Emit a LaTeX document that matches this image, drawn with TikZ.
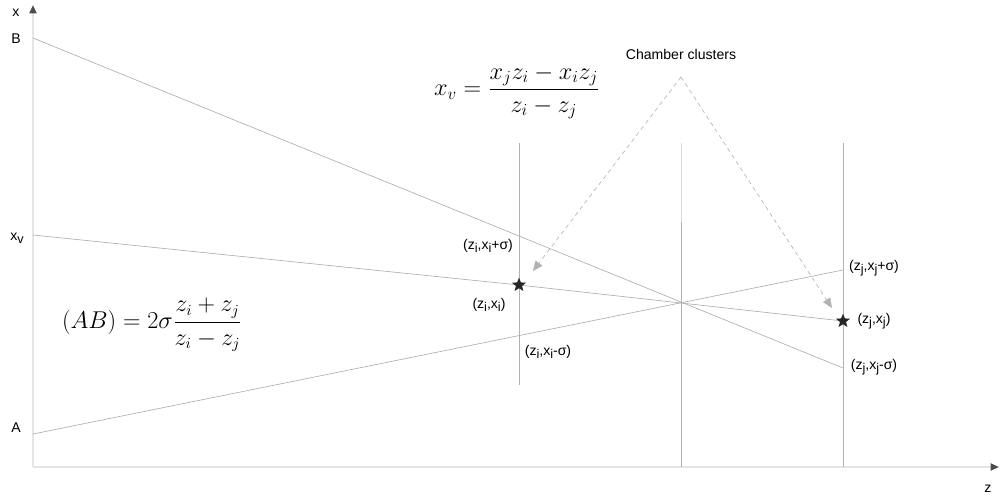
\documentclass[tikz,border=0pt]{standalone}
\usepackage{amsmath}
\usepackage{fontspec}
\setsansfont{Liberation Sans}
\usetikzlibrary{arrows.meta,shapes.geometric}
\newcommand{\lo}[1]{\raisebox{-0.45ex}{\fontsize{9}{10}\selectfont #1}}

\begin{document}
\begin{tikzpicture}[x=0.025cm, y=-0.025cm, >=Stealth, line join=round,
  axis/.style={gray!20, line width=1.4pt, -{Triangle[color=gray!60!black,length=6pt,width=5pt]}},
  track/.style={gray!60, line width=0.45pt},
  wire/.style={gray!65, line width=0.45pt},
  lbl/.style={font=\sffamily\fontsize{10}{12}\selectfont, inner sep=1pt},
  hit/.style={star, star points=5, star point ratio=2.3, fill=black!85, inner sep=0pt, minimum size=10.5pt},
  pointer/.style={gray!60, line width=0.45pt, dash pattern=on 3pt off 2.5pt, -{Triangle[length=7pt,width=6pt]}}]
  \useasboundingbox (0,0) rectangle (1001,500);
  \coordinate (O) at (33.000,467.000);
  \coordinate (Xtop) at (33.000,5.000);
  \coordinate (Zend) at (999.000,467.000);
  \coordinate (B) at (33.000,38.000);
  \coordinate (Xv) at (33.000,235.000);
  \coordinate (A) at (33.000,434.000);
  \coordinate (Ti) at (519.000,143.000);
  \coordinate (Bi) at (519.000,385.000);
  \coordinate (Tm) at (681.000,143.000);
  \coordinate (Mm) at (681.000,222.000);
  \coordinate (Bm) at (681.000,467.000);
  \coordinate (Tj) at (843.000,143.000);
  \coordinate (Bj) at (843.000,467.000);
  \coordinate (Pjp) at (843.000,270.000);
  \coordinate (Pjm) at (843.000,368.000);
  \coordinate (Apex) at (681.000,77.000);
  % axes
  \draw[axis] (O) -- (Xtop);
  \draw[axis] (O) -- (Zend);
  % chamber layers
  \draw[track] (Ti) -- (Bi);
  \draw[track,gray!30] (Tm) -- (Mm);
  \draw[track] (Mm) -- (Bm);
  \draw[track] (Tj) -- (Bj);
  % stars
  \coordinate (Pi) at (519.000,285.000);
  \coordinate (Pj) at (843.000,321.000);
  % lines through the clusters
  \draw[wire] (B) -- (Pjm);
  \draw[wire] (A) -- (Pjp);
  \draw[wire] (Xv) -- (Pi) -- (Pj);
  \node[hit] (si) at (Pi) {};
  \node[hit] (sj) at (Pj) {};
  % pointers
  \node[lbl] (cc) at (681.000,54.000) {Chamber clusters};
  \draw[pointer] (Apex) -- (533.000,271.000);
  \draw[pointer] (Apex) -- (832.000,308.000);
  % axis labels
  \node[lbl] (lx) at (16.000,13.000) {x};
  \node[lbl] (lB) at (16.000,39.000) {B};
  \node[lbl] (lxv) at (17.000,238.000) {x\lo{v}};
  \node[lbl] (lA) at (16.000,428.000) {A};
  \node[lbl] (lz) at (988.000,489.000) {z};
  % hit labels
  \node[lbl] (li1) at (488.000,246.000) {(z\lo{i},x\lo{i}+σ)};
  \node[lbl] (li0) at (489.000,305.000) {(z\lo{i},x\lo{i})};
  \node[lbl] (li2) at (548.000,352.000) {(z\lo{i},x\lo{i}-σ)};
  \node[lbl] (lj1) at (874.000,268.000) {(z\lo{j},x\lo{j}+σ)};
  \node[lbl] (lj0) at (874.000,321.000) {(z\lo{j},x\lo{j})};
  \node[lbl] (lj2) at (874.000,367.000) {(z\lo{j},x\lo{j}-σ)};
  % formulas
  \node[font=\fontsize{18}{21}\selectfont] (fxv) at (517.000,92.000) {$x_v=\dfrac{x_jz_i-x_iz_j}{z_i-z_j}$};
  \node[font=\fontsize{16}{19}\selectfont] (fab) at (152.000,325.000) {$(AB)=2\sigma\dfrac{z_i+z_j}{z_i-z_j}$};
\end{tikzpicture}
\end{document}
